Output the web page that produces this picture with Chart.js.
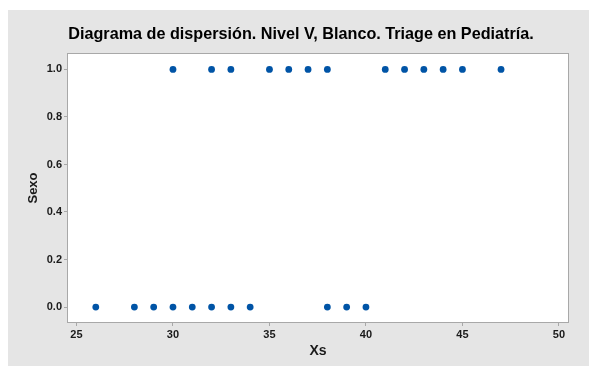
<!DOCTYPE html>
<html>
<head>
<meta charset="utf-8">
<script src="https://cdn.jsdelivr.net/npm/chart.js@4/dist/chart.umd.min.js"></script>
<style>
  html, body { margin: 0; padding: 0; background: #fff; }
  #wrap { width: 592px; height: 366px; }
</style>
</head>
<body>
<div id="wrap"><canvas id="scatterChart" width="592" height="366"></canvas></div>
<script>
// datos
var chartTitle = "Diagrama de dispersión. Nivel V, Blanco. Triage en Pediatría.";
var sexo1Xs = [30, 32, 33, 35, 36, 37, 38, 41, 42, 43, 44, 45, 47];
var sexo0Xs = [26, 28, 29, 30, 31, 32, 33, 34, 38, 39, 40];
var xTicks = [25, 30, 35, 40, 45, 50];
var yTicks = [0, 0.2, 0.4, 0.6, 0.8, 1.0];

var points = [];
sexo1Xs.forEach(function (x) { points.push({ x: x, y: 1 }); });
sexo0Xs.forEach(function (x) { points.push({ x: x, y: 0 }); });

// fondo gris, area blanca y marco
var fondo = {
  id: "fondo",
  beforeDraw: function (chart) {
    var c = chart.ctx, a = chart.chartArea;
    c.save();
    c.fillStyle = "#ffffff";
    c.fillRect(0, 0, chart.width, chart.height);
    c.fillStyle = "#e5e5e5";
    c.fillRect(8, 10, 581, 356);
    c.fillStyle = "#ffffff";
    c.fillRect(a.left, a.top, a.right - a.left, a.bottom - a.top);
    c.restore();
  },
  afterDraw: function (chart) {
    var c = chart.ctx, a = chart.chartArea;
    c.save();
    c.strokeStyle = "#a8a8a8";
    c.lineWidth = 1;
    c.strokeRect(a.left - 0.5, a.top - 0.5, a.right - a.left + 1, a.bottom - a.top + 1);
    c.fillStyle = "#000";
    c.font = "bold 16.2px 'Liberation Sans', Arial, sans-serif";
    c.textAlign = "center";
    c.textBaseline = "middle";
    c.fillText(chartTitle, 301, 35);
    c.restore();
  }
};

var ctx = document.getElementById("scatterChart").getContext("2d");
var scatterChart = new Chart(ctx, {
  type: "scatter",
  data: {
    datasets: [
      {
        label: "Sexo",
        data: points,
        backgroundColor: "#0054a6",
        borderColor: "#0054a6",
        pointRadius: 3.4,
        pointHoverRadius: 3.4,
        borderWidth: 0,
      },
    ],
  },
  options: {
    responsive: false,
    animation: false,
    layout: { padding: { left: 8, top: 54, right: 24, bottom: 0 } },
    plugins: {
      legend: { display: false },
      tooltip: { enabled: false },
    },
    scales: {
      x: {
        type: "linear",
        min: 24.56,
        max: 50.47,
        afterBuildTicks: function (s) { s.ticks = xTicks.map(function (v) { return { value: v }; }); },
        afterFit: function (s) { s.height = 44; },
        border: { display: false },
        grid: { drawOnChartArea: false, drawTicks: true, tickLength: 4, color: "#a8a8a8" },
        ticks: {
          padding: 2,
          color: "#1a1a1a",
          font: { family: "'Liberation Sans', Arial, sans-serif", size: 11, weight: "bold" },
          maxRotation: 0,
        },
        title: {
          display: true,
          text: "Xs",
          color: "#1a1a1a",
          padding: { top: 0, bottom: 6 },
          font: { family: "'Liberation Sans', Arial, sans-serif", size: 14, weight: "bold" },
        },
      },
      y: {
        type: "linear",
        min: -0.063,
        max: 1.065,
        afterBuildTicks: function (s) { s.ticks = yTicks.map(function (v) { return { value: v }; }); },
        afterFit: function (s) { s.width = 60; },
        border: { display: false },
        grid: { drawOnChartArea: false, drawTicks: true, tickLength: 4, color: "#a8a8a8" },
        ticks: {
          padding: 2,
          color: "#1a1a1a",
          font: { family: "'Liberation Sans', Arial, sans-serif", size: 11, weight: "bold" },
          callback: function (v) { return v.toFixed(1); },
        },
        title: {
          display: true,
          text: "Sexo",
          color: "#1a1a1a",
          padding: { top: 18, bottom: 0 },
          font: { family: "'Liberation Sans', Arial, sans-serif", size: 13, weight: "bold" },
        },
      },
    },
  },
  plugins: [fondo],
});
</script>
</body>
</html>
